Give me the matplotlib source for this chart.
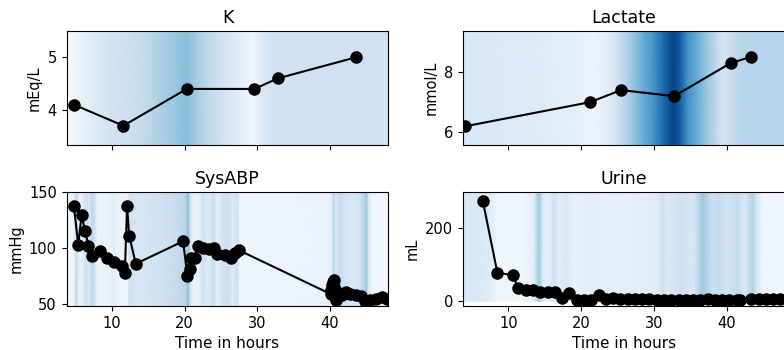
import matplotlib
matplotlib.use("Agg")
import matplotlib.pyplot as plt
import numpy as np

# measurements (time in hours, value)
k_t = [4.8, 11.6, 20.3, 29.6, 32.8, 43.5]
k_v = [4.1, 3.7, 4.4, 4.4, 4.6, 5.0]

lac_t = [4.0, 21.2, 25.5, 32.8, 40.6, 43.4]
lac_v = [6.2, 7.0, 7.4, 7.2, 8.3, 8.5]

sbp_t = [4.8, 5.4, 5.85, 6.35, 6.8, 7.3, 8.35, 9.3, 10.3, 11.4, 11.8, 12.1, 12.4, 13.3,
         19.8, 20.4, 20.7, 20.85, 21.5, 21.85, 22.6, 23.3, 24.0, 24.5, 25.5, 26.4, 27.0, 27.5,
         40.1, 40.2, 40.3, 40.4, 40.5, 40.6, 40.7, 40.8, 41.2, 41.6, 42.2, 42.8, 43.5,
         44.2, 44.8, 45.5, 46.3, 47.1, 47.8]
sbp_v = [137, 103, 129, 115, 102, 93, 97, 91, 88, 84, 78, 137, 111, 86,
         106, 75, 81, 91, 91, 102, 100, 99, 100, 95, 94, 91, 96, 98,
         59, 63, 67, 70, 72, 65, 57, 54, 60, 58, 61, 59, 58,
         57, 53, 54, 55, 56, 55]

uri_t = [6.5, 8.5, 10.6, 11.4, 12.4, 13.4, 14.4, 15.4, 16.4, 17.4, 18.4, 19.4, 20.4, 21.4,
         22.4, 23.4, 24.4, 25.4, 26.4, 27.4, 28.4, 29.4, 30.4, 31.4, 32.4, 33.4, 34.4, 35.4,
         36.4, 37.4, 38.4, 39.4, 40.4, 41.4, 41.9, 43.3, 44.4, 45.4, 46.4, 47.4]
uri_v = [274, 78, 71, 35, 30, 30, 25, 25, 25, 8, 22, 3, 3, 3,
         16, 5, 8, 6, 6, 5, 5, 5, 4, 4, 4, 4, 4, 4,
         4, 5, 4, 4, 3, 2, 2, 7, 6, 6, 6, 7]

# attention weights over time (background)
k_ht = [3.8, 6, 8, 9.8, 12, 14.3, 16.6, 18.5, 20.3, 21.5, 22.6, 24.9, 27.2, 29.3, 30.9, 32.5, 48]
k_hv = [0.0, 0.08, 0.14, 0.18, 0.21, 0.25, 0.33, 0.38, 0.43, 0.37, 0.3, 0.2, 0.12, 0.04, 0.15, 0.2, 0.2]

lac_ht = [3.8, 10, 15, 19, 22, 24, 25.5, 27, 28.5, 30, 31.2, 32.6, 33.5, 34.7, 36, 37.4,
          38.5, 39.4, 40.5, 41.6, 43, 48]
lac_hv = [0.15, 0.14, 0.12, 0.09, 0.06, 0.12, 0.25, 0.38, 0.5, 0.62, 0.76, 0.92, 0.85, 0.62, 0.5, 0.38,
          0.28, 0.17, 0.22, 0.28, 0.3, 0.3]

sbp_ht = [3.8, 4.8, 5.1, 5.4, 5.6, 6.0, 6.4, 6.9, 7.3, 7.7, 8.0, 9.5, 10.3, 11, 12.2, 12.4,
          13.5, 15, 17, 19, 20.2, 20.5, 20.8, 21.2, 22, 22.5, 23.3, 24, 24.5, 25.2, 26.0,
          26.6, 27.3, 27.6, 39.7, 40.2, 40.5, 40.8, 41.4, 42, 43, 44, 44.7, 45, 45.3, 45.7, 48]
sbp_hv = [0.04, 0.05, 0.25, 0.15, 0.06, 0.1, 0.22, 0.15, 0.28, 0.2, 0.06, 0.06, 0.1, 0.05, 0.06, 0.2,
          0.15, 0.18, 0.2, 0.25, 0.3, 0.42, 0.2, 0.06, 0.08, 0.2, 0.12, 0.25, 0.08, 0.18, 0.22,
          0.12, 0.22, 0.05, 0.07, 0.1, 0.3, 0.15, 0.25, 0.18, 0.15, 0.18, 0.3, 0.38, 0.15, 0.04, 0.03]

uri_ht = [3.8, 6, 7.5, 8.5, 12, 13.5, 14.2, 14.8, 15.5, 16.3, 17, 18, 19, 21, 25, 28, 30.5,
          31.2, 31.8, 33, 34, 35.5, 36.7, 37.3, 38, 39, 40, 41.5, 42.5, 43.6, 44.2, 45, 48]
uri_hv = [0.15, 0.15, 0.12, 0.05, 0.05, 0.1, 0.38, 0.12, 0.1, 0.2, 0.1, 0.15, 0.08, 0.1, 0.08, 0.1, 0.12,
          0.22, 0.14, 0.18, 0.2, 0.15, 0.38, 0.3, 0.22, 0.25, 0.18, 0.25, 0.15, 0.32, 0.15, 0.05, 0.04]

panels = [
    ("K", "mEq/L", k_t, k_v, k_ht, k_hv, (3.33, 5.5), (3.33, 5.5), [4, 5]),
    ("Lactate", "mmol/L", lac_t, lac_v, lac_ht, lac_hv, (5.58, 9.35), (5.58, 9.35), [6, 8]),
    ("SysABP", "mmHg", sbp_t, sbp_v, sbp_ht, sbp_hv, (48.5, 150), (48.5, 150), [50, 100, 150]),
    ("Urine", "mL", uri_t, uri_v, uri_ht, uri_hv, (0, 299), (-13, 299), [0, 200]),
]

fig, axes = plt.subplots(2, 2, figsize=(7.84, 3.5), dpi=100, sharex=True)
fig.subplots_adjust(left=0.085, right=1.001, top=0.911, bottom=0.126, wspace=0.233, hspace=0.41)

for ax, (title, unit, t, v, ht, hv, ext, ylim, yt) in zip(axes.flat, panels):
    X, Y = np.meshgrid(ht, ext)
    C = np.vstack([hv, hv])
    ax.pcolormesh(X, Y, C, shading="gouraud", cmap="Blues", vmin=0, vmax=1, zorder=0)
    ax.plot(t, v, "o-", color="black", lw=1.5, ms=8, zorder=2)
    ax.set_title(title, fontsize=12.5)
    ax.set_ylabel(unit, fontsize=10.5)
    ax.set_ylim(*ylim)
    ax.set_yticks(yt)
    ax.tick_params(labelsize=10.5)

axes[0, 0].set_xlim(3.8, 48)
axes[0, 0].set_xticks([10, 20, 30, 40])
for ax in axes[1]:
    ax.set_xlabel("Time in hours", fontsize=11)

fig.savefig("out.png", dpi=100)
